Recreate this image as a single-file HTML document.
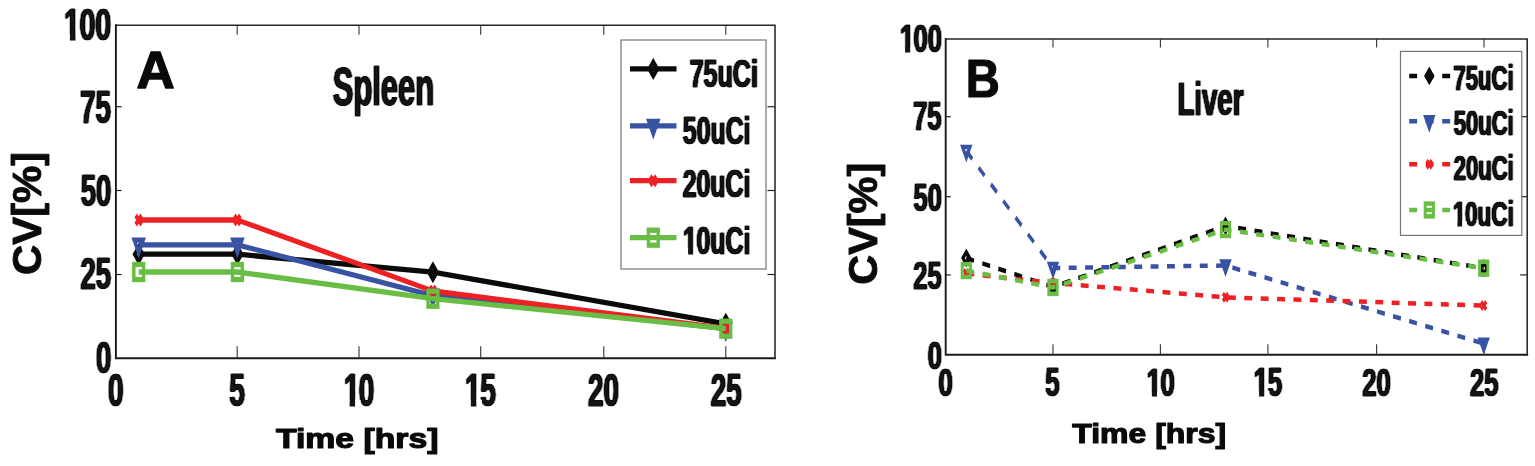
<!DOCTYPE html>
<html><head><meta charset="utf-8"><title>CV plots</title>
<style>html,body{margin:0;padding:0;background:#fff}svg{display:block}text{font-family:"Liberation Sans", Arial, Helvetica, sans-serif;font-weight:700}</style>
</head><body>
<svg width="1535" height="466" viewBox="0 0 1535 466">
<defs><filter id="hb" x="-5%" y="-5%" width="110%" height="110%" color-interpolation-filters="sRGB"><feConvolveMatrix order="3 1" kernelMatrix="0.5 1 0.5" divisor="1" edgeMode="none" preserveAlpha="false"/></filter></defs>
<rect width="1535" height="466" fill="#fff"/>
<g id="panelA">
<path d="M115.9,25.2V358.25H775.0" fill="none" stroke="#1a1a1a" stroke-width="1.9" stroke-linecap="square"/>
<path d="M115.9,25.2H775.0V358.25" fill="none" stroke="#262626" stroke-width="1.55" stroke-linecap="square"/>
<line x1="237.20" y1="358.25" x2="237.20" y2="346.25" stroke="#333" stroke-width="1.1" />
<line x1="237.20" y1="25.20" x2="237.20" y2="34.80" stroke="#333" stroke-width="1.1" />
<line x1="359.00" y1="358.25" x2="359.00" y2="346.25" stroke="#333" stroke-width="1.1" />
<line x1="359.00" y1="25.20" x2="359.00" y2="34.80" stroke="#333" stroke-width="1.1" />
<line x1="480.70" y1="358.25" x2="480.70" y2="346.25" stroke="#333" stroke-width="1.1" />
<line x1="480.70" y1="25.20" x2="480.70" y2="34.80" stroke="#333" stroke-width="1.1" />
<line x1="603.80" y1="358.25" x2="603.80" y2="346.25" stroke="#333" stroke-width="1.1" />
<line x1="603.80" y1="25.20" x2="603.80" y2="34.80" stroke="#333" stroke-width="1.1" />
<line x1="725.80" y1="358.25" x2="725.80" y2="346.25" stroke="#333" stroke-width="1.1" />
<line x1="725.80" y1="25.20" x2="725.80" y2="34.80" stroke="#333" stroke-width="1.1" />
<line x1="115.90" y1="106.70" x2="121.60" y2="106.70" stroke="#222" stroke-width="1.2" />
<line x1="775.00" y1="106.70" x2="767.50" y2="106.70" stroke="#222" stroke-width="1.2" />
<line x1="115.90" y1="190.50" x2="121.60" y2="190.50" stroke="#222" stroke-width="1.2" />
<line x1="775.00" y1="190.50" x2="767.50" y2="190.50" stroke="#222" stroke-width="1.2" />
<line x1="115.90" y1="274.50" x2="121.60" y2="274.50" stroke="#222" stroke-width="1.2" />
<line x1="775.00" y1="274.50" x2="767.50" y2="274.50" stroke="#222" stroke-width="1.2" />
<g transform="scale(0.65,1)">
<polyline points="213.38,254.20 365.23,254.20 666.00,272.20 1116.62,323.80" fill="none" stroke="#0a0a0a" stroke-width="5.30" stroke-linejoin="round"/>
<polygon points="213.38,247.20 219.38,254.20 213.38,261.20 207.38,254.20" fill="none" stroke="#0a0a0a" stroke-width="5.30" stroke-miterlimit="10"/>
<polygon points="365.23,247.20 371.23,254.20 365.23,261.20 359.23,254.20" fill="none" stroke="#0a0a0a" stroke-width="5.30" stroke-miterlimit="10"/>
<polygon points="666.00,265.20 672.00,272.20 666.00,279.20 660.00,272.20" fill="none" stroke="#0a0a0a" stroke-width="5.30" stroke-miterlimit="10"/>
<polygon points="1116.62,316.80 1122.62,323.80 1116.62,330.80 1110.62,323.80" fill="none" stroke="#0a0a0a" stroke-width="5.30" stroke-miterlimit="10"/>
<polyline points="213.38,244.80 365.23,244.80 666.00,295.70 1116.62,328.70" fill="none" stroke="#3953a4" stroke-width="5.30" stroke-linejoin="round"/>
<polygon points="206.63,240.20 220.13,240.20 213.38,252.70" fill="none" stroke="#3953a4" stroke-width="5.30" stroke-miterlimit="10"/>
<polygon points="358.48,240.20 371.98,240.20 365.23,252.70" fill="none" stroke="#3953a4" stroke-width="5.30" stroke-miterlimit="10"/>
<polygon points="659.25,291.10 672.75,291.10 666.00,303.60" fill="none" stroke="#3953a4" stroke-width="5.30" stroke-miterlimit="10"/>
<polygon points="1109.87,324.10 1123.37,324.10 1116.62,336.60" fill="none" stroke="#3953a4" stroke-width="5.30" stroke-miterlimit="10"/>
<polyline points="213.38,220.00 365.23,220.00 666.00,291.00 1116.62,328.50" fill="none" stroke="#ed2024" stroke-width="5.30" stroke-linejoin="round"/>
<path d="M208.78,215.40L217.98,224.60M217.98,215.40L208.78,224.60" fill="none" stroke="#ed2024" stroke-width="5.30" stroke-miterlimit="10"/>
<path d="M360.63,215.40L369.83,224.60M369.83,215.40L360.63,224.60" fill="none" stroke="#ed2024" stroke-width="5.30" stroke-miterlimit="10"/>
<path d="M661.40,286.40L670.60,295.60M670.60,286.40L661.40,295.60" fill="none" stroke="#ed2024" stroke-width="5.30" stroke-miterlimit="10"/>
<path d="M1112.02,323.90L1121.22,333.10M1121.22,323.90L1112.02,333.10" fill="none" stroke="#ed2024" stroke-width="5.30" stroke-miterlimit="10"/>
<polyline points="213.38,272.00 365.23,272.00 666.00,298.70 1116.62,328.70" fill="none" stroke="#69bd45" stroke-width="5.30" stroke-linejoin="round"/>
<rect x="205.88" y="264.50" width="15.00" height="15.00" fill="none" stroke="#69bd45" stroke-width="5.30" stroke-miterlimit="10"/>
<rect x="357.73" y="264.50" width="15.00" height="15.00" fill="none" stroke="#69bd45" stroke-width="5.30" stroke-miterlimit="10"/>
<rect x="658.50" y="291.20" width="15.00" height="15.00" fill="none" stroke="#69bd45" stroke-width="5.30" stroke-miterlimit="10"/>
<rect x="1109.12" y="321.20" width="15.00" height="15.00" fill="none" stroke="#69bd45" stroke-width="5.30" stroke-miterlimit="10"/>
</g>
<rect x="621" y="40" width="145" height="229" fill="#fff" stroke="#747474" stroke-width="1.2"/>
<g transform="scale(0.65,1)">
<line x1="969.23" y1="68.9" x2="1040.77" y2="68.9" stroke="#0a0a0a" stroke-width="5.30"/>
<polygon points="1005.08,61.90 1011.08,68.90 1005.08,75.90 999.08,68.90" fill="none" stroke="#0a0a0a" stroke-width="5.30" stroke-miterlimit="10"/>
<line x1="969.23" y1="125.9" x2="1040.77" y2="125.9" stroke="#3953a4" stroke-width="5.30"/>
<polygon points="998.33,121.30 1011.83,121.30 1005.08,133.80" fill="none" stroke="#3953a4" stroke-width="5.30" stroke-miterlimit="10"/>
<line x1="969.23" y1="180.7" x2="1040.77" y2="180.7" stroke="#ed2024" stroke-width="5.30"/>
<path d="M1000.48,176.10L1009.68,185.30M1009.68,176.10L1000.48,185.30" fill="none" stroke="#ed2024" stroke-width="5.30" stroke-miterlimit="10"/>
<line x1="969.23" y1="237.7" x2="1040.77" y2="237.7" stroke="#69bd45" stroke-width="5.30"/>
<rect x="997.58" y="230.20" width="15.00" height="15.00" fill="none" stroke="#69bd45" stroke-width="5.30" stroke-miterlimit="10"/>
</g>
<g transform="translate(689.65,86.93) scale(0.6419,1)"><text font-size="39.08" fill="#0a0a0a" stroke="#0a0a0a" stroke-width="0.35" stroke-linejoin="round" filter="url(#hb)">75uCi</text></g>
<g transform="translate(682.87,143.73) scale(0.6282,1)"><text font-size="39.51" fill="#0a0a0a" stroke="#0a0a0a" stroke-width="0.35" stroke-linejoin="round" filter="url(#hb)">50uCi</text></g>
<g transform="translate(682.64,197.43) scale(0.6371,1)"><text font-size="39.08" fill="#0a0a0a" stroke="#0a0a0a" stroke-width="0.35" stroke-linejoin="round" filter="url(#hb)">20uCi</text></g>
<g transform="translate(683.11,253.74) scale(0.6397,1)"><text font-size="38.94" fill="#0a0a0a" stroke="#0a0a0a" stroke-width="0.35" stroke-linejoin="round" filter="url(#hb)">1<tspan dx="-0.78">0uCi</tspan></text><rect x="-0.54" y="-5.15" width="8.35" height="7.52" fill="#fff"/><rect x="15.70" y="-5.15" width="7.86" height="7.52" fill="#fff"/></g>
<g transform="translate(64.05,39.82) scale(0.6322,1)"><text font-size="45.30" fill="#0a0a0a" stroke="#0a0a0a" stroke-width="0.35" stroke-linejoin="round" filter="url(#hb)">1<tspan dx="-0.91">00</tspan></text><rect x="-0.17" y="-5.80" width="9.46" height="8.17" fill="#fff"/><rect x="18.07" y="-5.80" width="8.88" height="8.17" fill="#fff"/></g>
<g transform="translate(80.00,123.47) scale(0.6050,1)"><text font-size="45.95" fill="#0a0a0a" stroke="#0a0a0a" stroke-width="0.35" stroke-linejoin="round" filter="url(#hb)">75</text></g>
<g transform="translate(80.77,206.07) scale(0.6050,1)"><text font-size="45.30" fill="#0a0a0a" stroke="#0a0a0a" stroke-width="0.35" stroke-linejoin="round" filter="url(#hb)">50</text></g>
<g transform="translate(80.43,288.67) scale(0.6050,1)"><text font-size="45.30" fill="#0a0a0a" stroke="#0a0a0a" stroke-width="0.35" stroke-linejoin="round" filter="url(#hb)">25</text></g>
<g transform="translate(95.98,372.77) scale(0.6050,1)"><text font-size="45.30" fill="#0a0a0a" stroke="#0a0a0a" stroke-width="0.35" stroke-linejoin="round" filter="url(#hb)">0</text></g>
<g transform="translate(107.98,405.66) scale(0.6050,1)"><text font-size="46.01" fill="#0a0a0a" stroke="#0a0a0a" stroke-width="0.35" stroke-linejoin="round" filter="url(#hb)">0</text></g>
<g transform="translate(229.23,405.66) scale(0.6050,1)"><text font-size="46.67" fill="#0a0a0a" stroke="#0a0a0a" stroke-width="0.35" stroke-linejoin="round" filter="url(#hb)">5</text></g>
<g transform="translate(343.94,405.66) scale(0.6050,1)"><text font-size="46.01" fill="#0a0a0a" stroke="#0a0a0a" stroke-width="0.35" stroke-linejoin="round" filter="url(#hb)">1<tspan dx="-0.92">0</tspan></text><rect x="-0.25" y="-5.87" width="9.66" height="8.24" fill="#fff"/><rect x="18.38" y="-5.87" width="9.07" height="8.24" fill="#fff"/></g>
<g transform="translate(465.04,405.66) scale(0.6050,1)"><text font-size="46.67" fill="#0a0a0a" stroke="#0a0a0a" stroke-width="0.35" stroke-linejoin="round" filter="url(#hb)">1<tspan dx="-0.93">5</tspan></text><rect x="-0.21" y="-5.94" width="9.77" height="8.31" fill="#fff"/><rect x="18.63" y="-5.94" width="9.18" height="8.31" fill="#fff"/></g>
<g transform="translate(588.02,405.66) scale(0.6050,1)"><text font-size="46.01" fill="#0a0a0a" stroke="#0a0a0a" stroke-width="0.35" stroke-linejoin="round" filter="url(#hb)">20</text></g>
<g transform="translate(710.65,405.66) scale(0.6050,1)"><text font-size="46.01" fill="#0a0a0a" stroke="#0a0a0a" stroke-width="0.35" stroke-linejoin="round" filter="url(#hb)">25</text></g>
<g transform="translate(136.38,87.60) scale(1.0060,1)"><text font-size="52.51" fill="#0a0a0a" stroke="#0a0a0a" stroke-width="1.4" stroke-linejoin="round">A</text></g>
<g transform="translate(332.78,104.80) scale(0.5853,1)"><text font-size="52.79" fill="#0a0a0a" stroke="#0a0a0a" stroke-width="0.35" stroke-linejoin="round" filter="url(#hb)">Spleen</text></g>
<g transform="translate(275.88,447.70) scale(1.2041,1)"><text font-size="28.07" fill="#0a0a0a" stroke="#0a0a0a" stroke-width="1.2" stroke-linejoin="round">Time [hrs]</text></g>
<g transform="translate(40.75,275.11) rotate(-90) scale(1.0442,1)"><text font-size="40.14" fill="#0a0a0a" stroke="#0a0a0a" stroke-width="0.9" stroke-linejoin="round">CV[%]</text></g>
</g>
<g id="panelB">
<path d="M945.7,39.0V354.8H1527.2" fill="none" stroke="#1a1a1a" stroke-width="1.9" stroke-linecap="square"/>
<path d="M945.7,39.0H1527.2V354.8" fill="none" stroke="#262626" stroke-width="1.55" stroke-linecap="square"/>
<line x1="1053.00" y1="354.80" x2="1053.00" y2="344.20" stroke="#333" stroke-width="1.1" />
<line x1="1053.00" y1="39.00" x2="1053.00" y2="47.48" stroke="#333" stroke-width="1.1" />
<line x1="1160.40" y1="354.80" x2="1160.40" y2="344.20" stroke="#333" stroke-width="1.1" />
<line x1="1160.40" y1="39.00" x2="1160.40" y2="47.48" stroke="#333" stroke-width="1.1" />
<line x1="1267.90" y1="354.80" x2="1267.90" y2="344.20" stroke="#333" stroke-width="1.1" />
<line x1="1267.90" y1="39.00" x2="1267.90" y2="47.48" stroke="#333" stroke-width="1.1" />
<line x1="1376.60" y1="354.80" x2="1376.60" y2="344.20" stroke="#333" stroke-width="1.1" />
<line x1="1376.60" y1="39.00" x2="1376.60" y2="47.48" stroke="#333" stroke-width="1.1" />
<line x1="1484.00" y1="354.80" x2="1484.00" y2="344.20" stroke="#333" stroke-width="1.1" />
<line x1="1484.00" y1="39.00" x2="1484.00" y2="47.48" stroke="#333" stroke-width="1.1" />
<line x1="945.70" y1="116.70" x2="950.90" y2="116.70" stroke="#222" stroke-width="1.2" />
<line x1="1527.20" y1="116.70" x2="1520.20" y2="116.70" stroke="#222" stroke-width="1.2" />
<line x1="945.70" y1="196.70" x2="950.90" y2="196.70" stroke="#222" stroke-width="1.2" />
<line x1="1527.20" y1="196.70" x2="1520.20" y2="196.70" stroke="#222" stroke-width="1.2" />
<line x1="945.70" y1="274.90" x2="950.90" y2="274.90" stroke="#222" stroke-width="1.2" />
<line x1="1527.20" y1="274.90" x2="1520.20" y2="274.90" stroke="#222" stroke-width="1.2" />
<g transform="scale(0.65,1)">
<polyline points="1486.62,258.00 1620.00,287.00 1885.38,226.00 2282.62,268.20" fill="none" stroke="#0a0a0a" stroke-width="4.50" stroke-linejoin="round" stroke-dasharray="12.2 13"/>
<polygon points="1486.62,252.05 1491.72,258.00 1486.62,263.95 1481.52,258.00" fill="none" stroke="#0a0a0a" stroke-width="4.50" stroke-miterlimit="10"/>
<polygon points="1620.00,281.05 1625.10,287.00 1620.00,292.95 1614.90,287.00" fill="none" stroke="#0a0a0a" stroke-width="4.50" stroke-miterlimit="10"/>
<polygon points="1885.38,220.05 1890.48,226.00 1885.38,231.95 1880.28,226.00" fill="none" stroke="#0a0a0a" stroke-width="4.50" stroke-miterlimit="10"/>
<polygon points="2282.62,262.25 2287.72,268.20 2282.62,274.15 2277.52,268.20" fill="none" stroke="#0a0a0a" stroke-width="4.50" stroke-miterlimit="10"/>
<polyline points="1486.62,151.00 1620.00,268.00 1885.38,265.50 2282.62,343.60" fill="none" stroke="#3953a4" stroke-width="4.50" stroke-linejoin="round" stroke-dasharray="12.2 13"/>
<polygon points="1480.88,147.09 1492.35,147.09 1486.62,157.72" fill="none" stroke="#3953a4" stroke-width="4.50" stroke-miterlimit="10"/>
<polygon points="1614.26,264.09 1625.74,264.09 1620.00,274.71" fill="none" stroke="#3953a4" stroke-width="4.50" stroke-miterlimit="10"/>
<polygon points="1879.65,261.59 1891.12,261.59 1885.38,272.21" fill="#3953a4" stroke="#3953a4" stroke-width="4.50" stroke-miterlimit="10"/>
<polygon points="2276.88,339.69 2288.35,339.69 2282.62,350.31" fill="#3953a4" stroke="#3953a4" stroke-width="4.50" stroke-miterlimit="10"/>
<polyline points="1486.62,273.50 1620.00,283.00 1885.38,297.30 2282.62,305.60" fill="none" stroke="#ed2024" stroke-width="4.50" stroke-linejoin="round" stroke-dasharray="12.2 13"/>
<path d="M1482.71,269.59L1490.53,277.41M1490.53,269.59L1482.71,277.41" fill="none" stroke="#ed2024" stroke-width="4.50" stroke-miterlimit="10"/>
<path d="M1616.09,279.09L1623.91,286.91M1623.91,279.09L1616.09,286.91" fill="none" stroke="#ed2024" stroke-width="4.50" stroke-miterlimit="10"/>
<path d="M1881.47,293.39L1889.29,301.21M1889.29,293.39L1881.47,301.21" fill="none" stroke="#ed2024" stroke-width="4.50" stroke-miterlimit="10"/>
<path d="M2278.71,301.69L2286.53,309.51M2286.53,301.69L2278.71,309.51" fill="none" stroke="#ed2024" stroke-width="4.50" stroke-miterlimit="10"/>
<polyline points="1486.62,270.60 1620.00,287.50 1885.38,229.60 2282.62,268.20" fill="none" stroke="#69bd45" stroke-width="4.50" stroke-linejoin="round" stroke-dasharray="12.2 13"/>
<rect x="1480.24" y="264.23" width="12.75" height="12.75" fill="none" stroke="#69bd45" stroke-width="4.50" stroke-miterlimit="10"/>
<rect x="1613.62" y="281.12" width="12.75" height="12.75" fill="none" stroke="#69bd45" stroke-width="4.50" stroke-miterlimit="10"/>
<rect x="1879.01" y="223.22" width="12.75" height="12.75" fill="none" stroke="#69bd45" stroke-width="4.50" stroke-miterlimit="10"/>
<rect x="2276.24" y="261.82" width="12.75" height="12.75" fill="none" stroke="#69bd45" stroke-width="4.50" stroke-miterlimit="10"/>
</g>
<rect x="1400.5" y="51.4" width="121.3" height="184" fill="#fff" stroke="#747474" stroke-width="1.2"/>
<g transform="scale(0.65,1)">
<line x1="2168.00" y1="75.9" x2="2231.08" y2="75.9" stroke="#0a0a0a" stroke-width="4.50" stroke-dasharray="12.2 13.2"/>
<polygon points="2198.92,69.95 2204.02,75.90 2198.92,81.85 2193.82,75.90" fill="none" stroke="#0a0a0a" stroke-width="4.50" stroke-miterlimit="10"/>
<line x1="2168.00" y1="121.2" x2="2231.08" y2="121.2" stroke="#3953a4" stroke-width="4.50" stroke-dasharray="12.2 13.2"/>
<polygon points="2193.19,117.29 2204.66,117.29 2198.92,127.92" fill="none" stroke="#3953a4" stroke-width="4.50" stroke-miterlimit="10"/>
<line x1="2168.00" y1="164.2" x2="2231.08" y2="164.2" stroke="#ed2024" stroke-width="4.50" stroke-dasharray="12.2 13.2"/>
<path d="M2195.01,160.29L2202.83,168.11M2202.83,160.29L2195.01,168.11" fill="none" stroke="#ed2024" stroke-width="4.50" stroke-miterlimit="10"/>
<line x1="2168.00" y1="210" x2="2231.08" y2="210" stroke="#69bd45" stroke-width="4.50" stroke-dasharray="12.2 13.2"/>
<rect x="2192.55" y="203.62" width="12.75" height="12.75" fill="none" stroke="#69bd45" stroke-width="4.50" stroke-miterlimit="10"/>
</g>
<g transform="translate(1453.57,90.47) scale(0.6281,1)"><text font-size="35.12" fill="#0a0a0a" stroke="#0a0a0a" stroke-width="0.35" stroke-linejoin="round" filter="url(#hb)">75uCi</text></g>
<g transform="translate(1453.85,135.37) scale(0.6226,1)"><text font-size="35.27" fill="#0a0a0a" stroke="#0a0a0a" stroke-width="0.35" stroke-linejoin="round" filter="url(#hb)">50uCi</text></g>
<g transform="translate(1453.74,179.67) scale(0.6189,1)"><text font-size="35.55" fill="#0a0a0a" stroke="#0a0a0a" stroke-width="0.35" stroke-linejoin="round" filter="url(#hb)">20uCi</text></g>
<g transform="translate(1452.98,226.07) scale(0.6368,1)"><text font-size="35.27" fill="#0a0a0a" stroke="#0a0a0a" stroke-width="0.35" stroke-linejoin="round" filter="url(#hb)">1<tspan dx="-0.71">0uCi</tspan></text><rect x="-0.78" y="-4.77" width="7.74" height="7.15" fill="#fff"/><rect x="14.34" y="-4.77" width="7.29" height="7.15" fill="#fff"/></g>
<g transform="translate(899.97,52.18) scale(0.6450,1)"><text font-size="39.36" fill="#0a0a0a" stroke="#0a0a0a" stroke-width="0.35" stroke-linejoin="round" filter="url(#hb)">1<tspan dx="-0.79">00</tspan></text><rect x="-0.49" y="-5.19" width="8.41" height="7.57" fill="#fff"/><rect x="15.85" y="-5.19" width="7.91" height="7.57" fill="#fff"/></g>
<g transform="translate(912.91,130.23) scale(0.6450,1)"><text font-size="39.93" fill="#0a0a0a" stroke="#0a0a0a" stroke-width="0.35" stroke-linejoin="round" filter="url(#hb)">75</text></g>
<g transform="translate(913.62,211.03) scale(0.6450,1)"><text font-size="39.36" fill="#0a0a0a" stroke="#0a0a0a" stroke-width="0.35" stroke-linejoin="round" filter="url(#hb)">50</text></g>
<g transform="translate(913.30,288.53) scale(0.6450,1)"><text font-size="39.36" fill="#0a0a0a" stroke="#0a0a0a" stroke-width="0.35" stroke-linejoin="round" filter="url(#hb)">25</text></g>
<g transform="translate(927.71,368.53) scale(0.6450,1)"><text font-size="39.36" fill="#0a0a0a" stroke="#0a0a0a" stroke-width="0.35" stroke-linejoin="round" filter="url(#hb)">0</text></g>
<g transform="translate(938.60,396.23) scale(0.6450,1)"><text font-size="39.65" fill="#0a0a0a" stroke="#0a0a0a" stroke-width="0.35" stroke-linejoin="round" filter="url(#hb)">0</text></g>
<g transform="translate(1045.37,396.22) scale(0.6450,1)"><text font-size="40.22" fill="#0a0a0a" stroke="#0a0a0a" stroke-width="0.35" stroke-linejoin="round" filter="url(#hb)">5</text></g>
<g transform="translate(1146.70,396.23) scale(0.6450,1)"><text font-size="39.65" fill="#0a0a0a" stroke="#0a0a0a" stroke-width="0.35" stroke-linejoin="round" filter="url(#hb)">1<tspan dx="-0.79">0</tspan></text><rect x="-0.47" y="-5.22" width="8.46" height="7.59" fill="#fff"/><rect x="15.95" y="-5.22" width="7.96" height="7.59" fill="#fff"/></g>
<g transform="translate(1253.83,396.22) scale(0.6450,1)"><text font-size="40.22" fill="#0a0a0a" stroke="#0a0a0a" stroke-width="0.35" stroke-linejoin="round" filter="url(#hb)">1<tspan dx="-0.80">5</tspan></text><rect x="-0.43" y="-5.28" width="8.56" height="7.65" fill="#fff"/><rect x="16.16" y="-5.28" width="8.05" height="7.65" fill="#fff"/></g>
<g transform="translate(1362.37,396.23) scale(0.6450,1)"><text font-size="39.65" fill="#0a0a0a" stroke="#0a0a0a" stroke-width="0.35" stroke-linejoin="round" filter="url(#hb)">20</text></g>
<g transform="translate(1470.01,396.23) scale(0.6450,1)"><text font-size="39.65" fill="#0a0a0a" stroke="#0a0a0a" stroke-width="0.35" stroke-linejoin="round" filter="url(#hb)">25</text></g>
<g transform="translate(965.74,97.40) scale(0.8903,1)"><text font-size="53.09" fill="#0a0a0a" stroke="#0a0a0a" stroke-width="1.2" stroke-linejoin="round">B</text></g>
<g transform="translate(1177.44,114.73) scale(0.5986,1)"><text font-size="46.18" fill="#0a0a0a" stroke="#0a0a0a" stroke-width="0.35" stroke-linejoin="round" filter="url(#hb)">Liver</text></g>
<g transform="translate(1072.25,443.40) scale(1.1214,1)"><text font-size="28.51" fill="#0a0a0a" stroke="#0a0a0a" stroke-width="1.2" stroke-linejoin="round">Time [hrs]</text></g>
<g transform="translate(876.54,284.80) rotate(-90) scale(1.0187,1)"><text font-size="40.71" fill="#0a0a0a" stroke="#0a0a0a" stroke-width="0.9" stroke-linejoin="round">CV[%]</text></g>
</g>
</svg></body></html>
